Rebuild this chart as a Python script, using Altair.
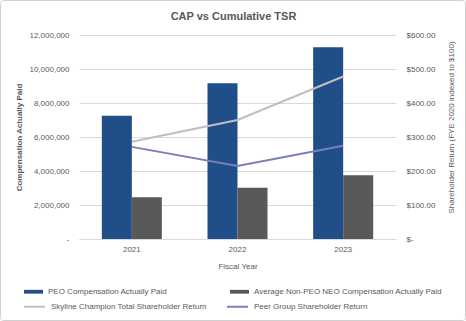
import altair as alt
import pandas as pd

years = ["2021", "2022", "2023"]
peo_cap = [7250000, 9160000, 11280000]
neo_cap = [2450000, 3020000, 3750000]
skyline_tsr = [286, 350, 478]
peer_tsr = [271, 215, 274]

bar_series = ["PEO Compensation Actually Paid", "Average Non-PEO NEO Compensation Actually Paid"]
line_series = ["Skyline Champion Total Shareholder Return", "Peer Group Shareholder Return"]
bar_colors = ["#1F4E89", "#595959"]
line_colors = ["#BFBFBF", "#7A80B8"]
chart_title = "CAP vs Cumulative TSR"

bars = pd.DataFrame(
    [{"year": y, "series": bar_series[0], "value": v} for y, v in zip(years, peo_cap)]
    + [{"year": y, "series": bar_series[1], "value": v} for y, v in zip(years, neo_cap)]
)
lines = pd.DataFrame(
    [{"year": y, "series": line_series[0], "value": v} for y, v in zip(years, skyline_tsr)]
    + [{"year": y, "series": line_series[1], "value": v} for y, v in zip(years, peer_tsr)]
)

FONT = "Liberation Sans"
TXT = "#595959"
W, H = 317, 204
PL, PT, PR, PB = 79, 35, 70, 82

xenc = alt.X(
    "year:N",
    title="Fiscal Year",
    scale=alt.Scale(paddingInner=0.432, paddingOuter=0.216),
    axis=alt.Axis(
        labelAngle=0, labelFontSize=8, labelColor=TXT, labelPadding=6,
        titleFontSize=8, titleColor=TXT, titleFontWeight="normal", titlePadding=9,
        domain=True, domainColor="#D9D9D9", ticks=False, grid=False,
    ),
)

bar_layer = alt.Chart(bars).mark_bar().encode(
    x=xenc,
    xOffset=alt.XOffset("series:N", sort=bar_series),
    y=alt.Y(
        "value:Q",
        title="Compensation Actually Paid",
        scale=alt.Scale(domain=[0, 12000000]),
        axis=alt.Axis(
            values=[0, 2000000, 4000000, 6000000, 8000000, 10000000, 12000000],
            labelExpr="datum.value == 0 ? '-' : format(datum.value, ',')",
            labelFontSize=8, labelColor=TXT, labelPadding=10, ticks=False, domain=False,
            grid=True, gridColor="#D9D9D9",
            titleFontSize=8, titleColor=TXT, titleFontWeight="bold",
            titleAngle=270, titleBaseline="middle", titleX=-60, titleY=102,
        ),
    ),
    color=alt.Color(
        "series:N",
        sort=bar_series,
        scale=alt.Scale(domain=bar_series, range=bar_colors),
        legend=alt.Legend(
            title=None, orient="none", legendX=-55, legendY=247, columns=2,
            columnPadding=62, symbolType="M-1,-0.2H1V0.2H-1Z", symbolSize=361,
            symbolStrokeWidth=0, labelFontSize=8, labelColor=TXT, labelFont=FONT,
            symbolOffset=0, labelOffset=5, labelLimit=0,
        ),
    ),
)

line_layer = alt.Chart(lines).mark_line(strokeWidth=2).encode(
    x=alt.X("year:N"),
    y=alt.Y(
        "value:Q",
        title="Shareholder Return (FYE 2020 indexed to $100)",
        scale=alt.Scale(domain=[0, 600]),
        axis=alt.Axis(
            orient="right",
            values=[0, 100, 200, 300, 400, 500, 600],
            labelExpr="datum.value == 0 ? '$-' : '$' + format(datum.value, '.2f')",
            labelFontSize=8, labelColor=TXT, labelPadding=10, ticks=False, domain=False,
            grid=False,
            titleFontSize=8, titleColor=TXT, titleFontWeight="normal",
            titleAngle=270, titleBaseline="middle", titleX=55, titleY=92,
        ),
    ),
    color=alt.Color(
        "series:N",
        sort=line_series,
        scale=alt.Scale(domain=line_series, range=line_colors),
        legend=alt.Legend(
            title=None, orient="none", legendX=-56, legendY=260, columns=2,
            columnPadding=16, symbolType="stroke", symbolSize=440,
            symbolStrokeWidth=2, labelFontSize=8, labelColor=TXT, labelFont=FONT,
            symbolOffset=0, labelOffset=5, labelLimit=0,
        ),
    ),
)

border = alt.Chart(pd.DataFrame({"a": [0]})).mark_rect(
    fill=None, stroke="#D0D0D0", strokeWidth=1, cornerRadius=3
).encode(
    x=alt.value(-PL + 0.5), x2=alt.value(W + PR - 0.5),
    y=alt.value(-PT + 0.5), y2=alt.value(H + PB - 0.5),
)

title_layer = alt.Chart(pd.DataFrame({"t": [chart_title]})).mark_text(
    fontSize=11, fontWeight="bold", color=TXT, font=FONT, align="center", baseline="alphabetic"
).encode(
    text="t:N",
    x=alt.value(233.5 - PL),
    y=alt.value(20 - PT),
)

chart = (
    alt.layer(bar_layer, line_layer, border, title_layer)
    .resolve_scale(y="independent", color="independent")
    .properties(
        width=W, height=H,
        padding={"left": PL, "top": PT, "right": PR, "bottom": PB},
        autosize=alt.AutoSizeParams(type="none"),
        background="white",
    )
    .configure(font=FONT)
    .configure_view(stroke=None)
    .configure_axis(labelFont=FONT, titleFont=FONT)
)

chart.save("out.html", embed_options={"renderer": "svg", "actions": False})
